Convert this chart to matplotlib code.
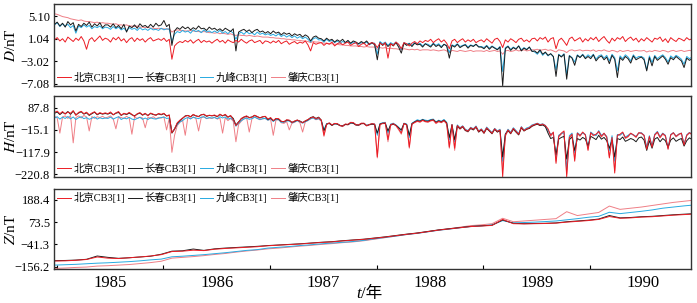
import numpy as np
import matplotlib.pyplot as plt
from matplotlib.ticker import FixedLocator

plt.rcParams['font.family'] = ['Liberation Serif', 'Noto Sans CJK SC', 'DejaVu Sans']
plt.rcParams['mathtext.fontset'] = 'stix'
plt.rcParams['axes.unicode_minus'] = True

# 台站
stations = ['北京CB3[1]', '长春CB3[1]', '九峰CB3[1]', '肇庆CB3[1]']

# D, H: 每 0.025 年一个值, 从 1984.48 开始 (每行 0.5 年)
t0_dh, dt_dh = 1984.48, 0.025
# Z: 每 0.1 年一个值
t0_z, dt_z = 1984.48, 0.1

D_bj = [0.8, 1.2, 0.6, 1.0, 0.4, 1.3, 0.9, 0.5, 1.1, 0.7, 1.4, 0.6, -0.9, 0.8, 1.2, 0.5, 1.0, 1.5, 0.7, 1.1,
        0.9, 0.4, 1.2, 0.8, 1.3, 0.6, 1.0, 0.3, 0.9, 1.2, 0.5, 1.1, 0.7, 1.0, 0.4, 0.9, 1.2, 0.6, 0.8, 1.0,
        0.7, 1.1, 0.5, 0.9, -2.7, -0.3, 0.2, 0.5, 0.3, 0.7, 0.4, 0.8, 0.2, 0.6, 0.9, 0.3, 0.7, 0.4, 0.6, 0.2,
        0.6, 0.9, 0.4, 0.7, 0.2, 0.8, 0.5, 0.3, 0.7, 0.4, 0.9, 0.5, 0.2, 0.6, 0.8, 0.3, 0.5, 0.7, 0.1, 0.6,
        0.5, 0.2, 0.6, 0.3, 0.7, 0.1, 0.4, 0.6, 0.0, 0.3, 0.5, 0.1, 0.4, 0.2, 0.6, -0.1, -1.2, 0.3, 0.0, 0.2,
        0.3, -0.2, 0.2, 0.0, 0.4, -0.3, 0.1, 0.3, -0.1, 0.2, 0.4, -0.2, 0.1, 0.3, -0.4, 0.0, 0.2, -0.3, 0.1, 0.3,
        0.1, -0.6, 0.2, -0.1, 0.3, -2.5, 0.1, -0.2, 0.4, 0.0, -0.8, 0.3, 0.1, -0.3, 0.2, 0.5, 0.1, 0.6, 0.3, 0.7,
        0.5, 0.9, 0.3, 0.7, 1.0, 0.4, 0.8, 0.2, -0.8, 0.6, 0.9, 0.3, 0.7, 1.0, 0.4, 0.8, 0.5, 0.9, 0.3, 0.6,
        0.8, 0.4, 1.0, 0.6, 0.2, 0.9, 1.1, 0.5, -0.6, 0.8, 0.4, 1.0, 0.7, 0.3, 0.9, 1.1, 0.5, 0.8, 0.4, 1.0,
        1.1, 0.6, 1.2, 0.9, 1.3, 0.4, 1.0, 1.2, -0.8, 0.7, 1.1, 0.5, -0.2, 1.0, 1.3, 0.6, 0.9, 1.2, 0.4, 1.0,
        0.6, 1.2, 0.8, 1.3, 0.5, 1.0, 1.4, 0.7, 0.2, 1.1, 0.6, 1.2, 0.9, 1.4, 0.5, 1.0, 1.3, 0.7, 1.1, 0.4,
        1.0, 0.6, 1.2, 0.8, 0.4, 1.1, 0.9, 1.3, 0.5, 1.0, 0.3, 1.2, 0.8, 0.5, 1.1, 0.9, 0.6, 1.2, 0.8, 1.0]
D_cc = [3.6, 4.0, 3.3, 3.8, 3.1, 4.1, 3.5, 3.9, 2.4, 3.6, 3.2, 3.8, 3.4, 4.0, 3.1, 3.7, 3.3, 3.9, 3.0, 3.5,
        3.5, 3.1, 3.7, 3.0, 3.4, 2.8, 3.6, 2.2, 3.3, 3.0, 3.5, 2.9, 3.7, 3.2, 3.4, 3.0, 3.6, 3.1, 3.8, 3.3,
        3.5, 4.3, 3.2, 3.6, -0.2, 2.4, 3.0, 2.7, 3.2, 2.8, 3.1, 2.6, 3.0, 2.7, 3.3, 2.8, 2.9, 2.5, 3.1, 2.7,
        2.9, 2.5, 2.8, 2.4, 2.9, 2.6, 2.3, 2.8, -1.2, 2.2, 2.5, 2.7, 2.3, 2.6, 2.1, 2.5, 2.7, 2.2, 2.4, 2.0,
        2.3, 1.9, 2.4, 2.0, 2.2, 1.7, 2.1, 1.8, 2.0, 1.5, 1.9, 1.6, 1.8, 1.3, 1.7, 1.4, 0.6, 1.3, 1.5, 1.1,
        1.0, 0.6, 1.1, 0.7, 0.9, 0.4, 0.8, 0.5, 0.9, 0.3, 0.7, 0.2, 0.6, 0.4, 0.1, 0.5, 0.2, 0.6, 0.0, 0.3,
        -0.1, -2.8, 0.3, -0.2, 0.2, -0.4, 0.1, -0.3, 0.3, -0.5, -1.6, 0.2, -0.2, 0.1, -0.4, 0.2, -0.1, 0.0, -0.5, 0.1,
        -0.2, -0.5, 0.1, -0.4, -0.1, -0.6, 0.0, -0.3, -2.5, -0.2, -0.5, 0.0, -0.6, -0.3, -0.1, -0.7, -0.2, -0.4, 0.0, -0.5,
        -0.5, -0.8, -0.3, -0.9, -0.4, -0.7, -1.0, -0.5, -7.5, -0.8, -0.4, -1.1, -0.6, -0.9, -0.3, -1.2, -0.7, -1.0, -0.5, -1.3,
        -1.2, -1.6, -1.0, -1.8, -1.4, -2.0, -1.7, -2.2, -5.8, -1.9, -2.3, -1.8, -6.3, -2.1, -2.5, -3.8, -2.0, -2.4, -1.9, -2.6,
        -2.2, -2.6, -1.9, -3.0, -2.4, -2.1, -2.8, -2.3, -3.5, -2.0, -2.7, -6.0, -2.4, -2.9, -2.2, -2.6, -3.4, -2.1, -2.8, -2.5,
        -2.3, -2.8, -4.8, -2.4, -3.9, -2.2, -2.9, -2.5, -2.1, -2.7, -3.6, -2.4, -2.8, -2.2, -2.6, -3.0, -4.2, -2.5, -2.9, -2.6]
D_jf = [3.5, 3.9, 3.2, 3.7, 3.3, 3.6, 3.0, 3.4, 2.0, 3.3, 3.0, 3.5, 3.1, 3.4, 2.8, 3.2, 3.0, 3.3, 2.8, 3.1,
        3.0, 2.7, 3.2, 2.8, 3.1, 2.6, 2.9, 2.4, 3.0, 2.7, 2.9, 2.5, 3.0, 2.6, 2.8, 2.5, 2.9, 2.6, 2.7, 2.5,
        2.9, 2.6, 2.8, 2.7, 0.5, 1.8, 2.3, 2.1, 2.5, 2.2, 2.4, 2.0, 2.6, 2.3, 2.5, 2.1, 2.6, 2.2, 2.4, 2.1,
        2.4, 2.1, 2.5, 2.0, 2.3, 1.9, 2.4, 2.0, 0.9, 1.9, 2.2, 1.8, 2.3, 1.9, 2.1, 1.7, 2.2, 1.8, 2.0, 1.7,
        1.9, 1.6, 1.8, 1.5, 1.9, 1.4, 1.7, 1.3, 1.6, 1.2, 1.5, 1.1, 1.4, 1.0, 1.3, 0.9, 0.4, 1.0, 1.2, 0.8,
        0.8, 0.4, 0.9, 0.5, 0.7, 0.3, 0.6, 0.2, 0.5, 0.3, 0.6, 0.1, 0.4, 0.2, 0.0, 0.3, 0.1, 0.4, -0.1, 0.2,
        0.2, -1.8, 0.5, 0.1, 0.4, -0.2, 0.3, 0.0, 0.4, -0.1, -1.0, 0.3, 0.0, 0.2, -0.2, 0.3, 0.0, 0.2, -0.3, 0.1,
        0.0, -0.3, 0.2, -0.2, 0.1, -0.4, 0.0, -0.2, -1.5, -0.1, -0.3, 0.1, -0.4, -0.2, 0.0, -0.5, -0.1, -0.3, 0.0, -0.4,
        -0.4, -0.6, -0.2, -0.7, -0.3, -0.6, -0.9, -0.4, -4.9, -0.6, -0.3, -0.9, -0.5, -0.8, -0.3, -1.0, -0.6, -0.9, -0.5, -1.2,
        -1.4, -1.8, -1.2, -2.0, -1.5, -2.1, -1.7, -2.3, -4.6, -1.8, -2.2, -1.7, -5.5, -2.0, -2.4, -3.2, -1.9, -2.3, -1.8, -2.4,
        -1.9, -2.3, -1.8, -2.7, -2.1, -1.9, -2.5, -2.0, -3.0, -1.8, -2.4, -4.8, -2.1, -2.6, -1.9, -2.3, -3.0, -1.9, -2.5, -2.2,
        -2.2, -2.5, -4.6, -2.1, -3.3, -2.0, -2.6, -2.2, -1.9, -2.4, -3.2, -2.1, -2.5, -2.0, -2.3, -2.7, -3.6, -2.2, -2.6, -2.3]
D_zq = [5.5, 5.4, 5.2, 5.0, 4.9, 4.8, 4.6, 4.5, 4.4, 4.3, 4.4, 4.2, 4.1, 4.1, 4.0, 3.9, 4.0, 3.8, 3.9, 3.8,
        3.8, 3.7, 3.6, 3.7, 3.5, 3.5, 3.4, 3.5, 3.3, 3.3, 3.2, 3.3, 3.1, 3.1, 3.0, 3.1, 2.9, 2.9, 2.8, 2.9,
        2.8, 2.8, 2.7, 2.8, 2.2, 2.5, 2.6, 2.5, 2.5, 2.4, 2.4, 2.5, 2.4, 2.3, 2.3, 2.2, 2.3, 2.2, 2.1, 2.1,
        2.0, 2.1, 1.9, 2.0, 1.9, 1.8, 1.9, 1.7, 1.6, 1.7, 1.6, 1.6, 1.5, 1.6, 1.5, 1.4, 1.5, 1.4, 1.3, 1.3,
        1.3, 1.2, 1.2, 1.1, 1.1, 1.0, 1.0, 0.9, 0.9, 0.8, 0.8, 0.7, 0.7, 0.6, 0.6, 0.5, 0.3, 0.5, 0.4, 0.4,
        0.3, 0.2, 0.2, 0.1, 0.1, 0.0, 0.0, -0.1, -0.1, -0.2, -0.2, -0.3, -0.3, -0.3, -0.4, -0.4, -0.5, -0.4, -0.5, -0.5,
        -0.5, -0.9, -0.6, -0.7, -0.6, -0.8, -0.7, -0.8, -0.8, -0.9, -1.0, -0.8, -0.9, -1.0, -0.9, -1.0, -0.9, -1.1, -1.0, -1.0,
        -1.0, -1.1, -1.0, -1.1, -1.2, -1.1, -1.0, -1.2, -1.5, -1.1, -1.2, -1.3, -1.1, -1.2, -1.3, -1.2, -1.1, -1.3, -1.2, -1.2,
        -1.2, -1.3, -1.1, -1.3, -1.2, -1.1, -1.3, -1.2, -1.8, -1.2, -1.1, -1.3, -1.2, -1.0, -1.2, -1.1, -1.0, -1.2, -1.1, -1.0,
        -1.0, -0.9, -1.1, -1.0, -0.9, -1.1, -1.0, -1.2, -1.4, -1.0, -1.1, -1.2, -1.5, -1.1, -1.0, -1.2, -1.1, -1.0, -1.2, -1.1,
        -1.1, -1.2, -1.0, -1.3, -1.1, -1.2, -1.0, -1.2, -1.3, -1.1, -1.2, -1.4, -1.1, -1.3, -1.2, -1.1, -1.3, -1.2, -1.1, -1.2,
        -1.2, -1.1, -1.4, -1.2, -1.3, -1.1, -1.2, -1.3, -1.1, -1.2, -1.4, -1.2, -1.1, -1.3, -1.2, -1.1, -1.3, -1.2, -1.1, -1.2]

H_bj = [66, 72, 60, 70, 58, 68, 62, 74, 52, 66, 71, 60, 67, 55, 63, 69, 57, 65, 60, 64,
        60, 68, 55, 64, 70, 53, 62, 58, 66, 57, 47, 60, 65, 55, 62, 50, 63, 58, 52, 61,
        57, 62, 49, 55, -28, -10, 18, 30, 40, 48, 52, 45, 57, 50, 46, 55, 58, 49, 53, 51,
        54, 47, 58, 50, 57, 44, 52, 33, 5, 20, 38, 45, 50, 41, 44, 53, 47, 40, 46, 48,
        35, 42, 28, 38, 37, 25, 22, 32, 30, 19, 26, 31, 24, 18, 27, 33, 40, 45, 36, 42,
        30, -40, 10, 18, 8, 15, 14, 6, 2, 12, 11, 20, 19, 9, 8, 16, 16, 4, 10, 14,
        12, -140, 10, 15, 18, -60, 9, 14, 5, -10, -30, 15, 8, -95, 12, 20, 26, 22, 30, 24,
        22, 28, 31, 17, 25, 20, 28, 15, -95, 10, -100, 5, -8, 2, -15, -20, -5, -12, 0, -22,
        -12, -28, -5, -18, -30, -10, -22, -15, -232, -40, -15, -30, -8, -22, -35, -2, -18, -10, -5, 5,
        10, 15, 8, 12, 5, -10, -40, -25, -170, -45, -30, -20, -232, -50, -35, -160, -30, -42, -25, -38,
        -110, -28, -40, -35, -22, -45, -30, -48, -145, -50, -215, -40, -35, -25, -52, -45, -30, -38, -48, -28,
        -30, -40, -105, -45, -95, -38, -25, -50, -32, -42, -105, -38, -28, -45, -35, -30, -85, -40, -28, -35]
H_cc = [62, 68, 56, 66, 60, 70, 57, 72, 55, 63, 69, 58, 64, 52, 60, 67, 55, 62, 58, 61,
        58, 64, 55, 62, 66, 52, 60, 56, 63, 55, 50, 58, 63, 53, 60, 52, 61, 56, 54, 59,
        55, 60, 50, 52, -30, -12, 15, 28, 38, 50, 52, 46, 55, 50, 47, 55, 56, 48, 52, 50,
        52, 46, 56, 50, 55, 44, 50, 38, 8, 22, 36, 44, 48, 42, 45, 52, 46, 41, 45, 47,
        33, 40, 27, 37, 35, 24, 23, 30, 29, 20, 25, 30, 26, 19, 26, 32, 42, 46, 38, 44,
        30, -20, 12, 15, 6, 14, 12, 5, 3, 11, 9, 18, 16, 8, 7, 14, 15, 5, 9, 12,
        10, -30, 12, 16, 15, -20, 8, 12, 6, -5, -15, 14, 10, -40, 14, 22, 28, 25, 32, 26,
        25, 30, 32, 20, 27, 22, 30, 18, -50, 8, -60, 3, -10, 0, -18, -22, -8, -15, -2, -25,
        -15, -30, -8, -20, -32, -12, -25, -18, -140, -35, -18, -32, -12, -25, -38, -5, -20, -12, -8, 2,
        8, 12, 5, 8, 0, -30, -55, -50, -130, -58, -50, -45, -150, -60, -48, -110, -55, -62, -50, -58,
        -90, -45, -52, -60, -40, -58, -50, -65, -100, -62, -140, -55, -60, -48, -68, -62, -55, -60, -70, -52,
        -48, -62, -110, -65, -100, -58, -50, -70, -55, -65, -95, -62, -52, -68, -60, -55, -90, -65, -52, -60]
H_jf = [40, 46, 35, 44, 38, 47, 36, 45, 33, 41, 46, 37, 42, 34, 39, 45, 35, 41, 37, 40,
        38, 44, 35, 41, 46, 33, 40, 36, 43, 35, 32, 38, 43, 34, 40, 33, 41, 37, 35, 39,
        42, 45, 38, 40, -25, -10, 10, 22, 28, 38, 42, 36, 44, 40, 37, 44, 46, 38, 42, 40,
        42, 37, 46, 40, 45, 35, 40, 30, 2, 16, 28, 35, 40, 34, 37, 44, 38, 33, 37, 38,
        30, 36, 24, 33, 32, 20, 20, 27, 26, 17, 22, 28, 22, 16, 23, 29, 36, 41, 33, 38,
        28, -15, 14, 16, 8, 13, 13, 6, 4, 10, 10, 17, 17, 9, 8, 15, 15, 6, 10, 13,
        12, -40, 14, 18, 20, -30, 12, 16, 8, -3, -20, 16, 12, -50, 16, 24, 32, 28, 34, 30,
        28, 33, 35, 22, 30, 25, 33, 20, -60, 10, -70, 8, -5, 4, -12, -18, -3, -10, 3, -20,
        -10, -25, -2, -15, -27, -8, -20, -12, -160, -35, -12, -26, -5, -18, -32, 0, -15, -6, -2, 8,
        12, 16, 10, 13, 6, -18, -35, -30, -140, -40, -32, -28, -200, -42, -30, -120, -28, -38, -30, -36,
        -95, -25, -35, -42, -18, -40, -32, -45, -110, -42, -160, -36, -40, -30, -48, -40, -32, -38, -45, -30,
        -28, -40, -95, -42, -90, -35, -22, -46, -30, -40, -100, -36, -28, -44, -35, -30, -80, -38, -27, -35]
H_zq = [48, 40, -30, 45, 50, 38, 52, -75, 42, 50, 40, 52, 45, -20, 47, 38, 46, 42, 48, 40,
        44, 50, 36, -10, 46, 42, 38, 48, 40, -35, 45, 38, 44, 40, -5, 43, 39, 46, 37, 42,
        40, 45, -15, 38, -119, -40, 5, 20, 30, -40, 45, 36, 44, 38, -20, 42, 45, 37, 40, 38,
        44, 35, 40, -30, 42, 28, 38, 25, -70, 10, 25, 38, 42, -25, 36, 45, 38, 32, 36, 38,
        30, 34, -40, 30, 33, 18, 15, 24, -15, 16, 20, 29, 18, -25, 22, 28, 38, 40, 32, 36,
        25, -45, 12, 15, 5, 12, 12, 4, 0, 9, 8, 15, 15, 6, 5, 13, 13, 3, 8, 11,
        10, -145, 10, 14, 14, -70, 5, 12, 4, -15, -35, 12, 8, -100, 12, 18, 24, 20, 28, 22,
        20, 26, 29, 14, 22, 18, 26, 12, -100, 6, -110, 2, -12, -2, -18, -25, -8, -15, -3, -25,
        -15, -32, -8, -20, -34, -12, -25, -18, -200, -45, -18, -34, -10, -25, -38, -5, -20, -12, -8, 2,
        6, 12, 5, 9, 2, -15, -45, -30, -160, -48, -35, -25, -220, -55, -38, -150, -32, -45, -28, -40,
        -105, -30, -42, -38, -25, -48, -35, -50, -140, -52, -205, -42, -38, -28, -55, -48, -32, -40, -50, -30,
        -32, -42, -100, -48, -92, -40, -28, -52, -35, -45, -100, -40, -30, -48, -38, -32, -85, -42, -30, -38]

Z_bj = [-127, -126, -123, -119, -106, -112, -114, -110, -106, -101,
        -94, -78, -76, -71, -73, -66, -62, -59, -56, -53,
        -48, -45, -42, -39, -35, -31, -28, -23, -19, -15,
        -9, -3, 4, 11, 17, 25, 33, 39, 45, 51,
        54, 57, 88, 66, 65, 66, 67, 69, 74, 78,
        82, 88, 103, 94, 96, 100, 102, 106, 110, 113,
        116]
Z_cc = [-125, -124, -122, -118, -101, -108, -113, -110, -106, -102,
        -92, -76, -74, -65, -72, -64, -60, -57, -54, -51,
        -47, -44, -41, -38, -34, -30, -27, -22, -18, -14,
        -8, -2, 5, 12, 18, 26, 34, 40, 46, 52,
        55, 58, 85, 68, 66, 67, 68, 70, 76, 80,
        84, 90, 108, 96, 98, 102, 104, 108, 112, 115,
        118]
Z_jf = [-148, -146, -144, -141, -138, -136, -133, -130, -126, -121,
        -117, -105, -102, -98, -94, -89, -84, -78, -72, -68,
        -60, -56, -52, -47, -43, -38, -34, -30, -26, -20,
        -12, -5, 2, 10, 16, 24, 32, 38, 45, 51,
        55, 60, 82, 70, 72, 74, 77, 80, 86, 92,
        99, 104, 125, 118, 124, 130, 137, 146, 152, 158,
        163]
Z_zq = [-165, -163, -160, -158, -153, -151, -148, -145, -140, -135,
        -128, -112, -108, -104, -99, -93, -88, -81, -75, -70,
        -64, -60, -55, -50, -46, -41, -37, -32, -28, -22,
        -14, -6, 2, 10, 17, 25, 33, 40, 48, 56,
        60, 66, 94, 76, 80, 84, 88, 92, 128, 108,
        116, 124, 157, 140, 146, 152, 160, 168, 176, 182,
        188]

D_ticks = [5.10, 1.04, -3.02, -7.08]
H_ticks = [87.8, -15.1, -117.9, -220.8]
Z_ticks = [188.4, 73.5, -41.3, -156.2]
years = [1985, 1986, 1987, 1988, 1989, 1990]

colors = ['#ec1c24', '#1a1a1a', '#27aae1', '#ef7f86']

t_dh = t0_dh + dt_dh * np.arange(len(D_bj))
t_z = t0_z + dt_z * np.arange(len(Z_bj))

fig = plt.figure(figsize=(6.97, 3.03), dpi=100)
L, W = 54 / 697, 637 / 697
ax1 = fig.add_axes([L, 1 - 86 / 303, W, 82 / 303])
ax2 = fig.add_axes([L, 1 - 177 / 303, W, 81 / 303])
ax3 = fig.add_axes([L, 1 - 269 / 303, W, 80 / 303])

panels = [
    (ax1, t_dh, [D_bj, D_cc, D_jf, D_zq], D_ticks, (-7.53, 7.27), '$D$/nT', 'lower left'),
    (ax2, t_dh, [H_bj, H_cc, H_jf, H_zq], H_ticks, (-233.3, 142), '$H$/nT', 'lower left'),
    (ax3, t_z, [Z_bj, Z_cc, Z_jf, Z_zq], Z_ticks, (-168.1, 245.2), '$Z$/nT', 'upper left'),
]
order = [3, 2, 1, 0]

for ax, t, series, ticks, ylim, ylab, loc in panels:
    lines = {}
    for i in order:
        lines[i], = ax.plot(t, series[i], color=colors[i], lw=0.7, label=stations[i])
    ax.set_xlim(1984.475, 1990.445)
    ax.set_ylim(*ylim)
    ax.set_yticks(ticks)
    ax.set_yticklabels([s.replace('-', '\u2212') for s in
                        [('%.1f' % v) if abs(v) >= 10 else ('%.2f' % v) for v in ticks]])
    ax.tick_params(axis='y', direction='in', length=2.5, labelsize=9, pad=3)
    ax.set_ylabel(ylab, fontsize=11)
    ax.yaxis.set_label_coords(-0.056, 0.5)
    for s in ax.spines.values():
        s.set_color('#333333')
        s.set_linewidth(1.0)
    ax.legend([lines[i] for i in range(4)], stations, loc=loc, ncol=4, frameon=False,
              fontsize=7.5, handlelength=1.3, handletextpad=0.25, columnspacing=0.35,
              borderaxespad=0.1, borderpad=0.2)
    ax.set_xticks([])

ax3.xaxis.set_major_locator(FixedLocator([y + 0.5 for y in years[:-1]] + [1984.5]))
ax3.xaxis.set_minor_locator(FixedLocator(years))
ax3.set_xticklabels([])
ax3.set_xticklabels([str(y) for y in years], minor=True)
ax3.tick_params(axis='x', which='major', direction='in', length=3)
ax3.tick_params(axis='x', which='minor', length=0, labelsize=12, pad=4)

fig.text(361 / 697, 1 - 294 / 303, 't', fontsize=12, style='italic', ha='right', va='center',
         family='Liberation Serif')
fig.text(361 / 697, 1 - 294 / 303, '/年', fontsize=12, ha='left', va='center',
         family=['Liberation Serif', 'Noto Sans CJK SC'])

fig.savefig('out.png', dpi=100)
